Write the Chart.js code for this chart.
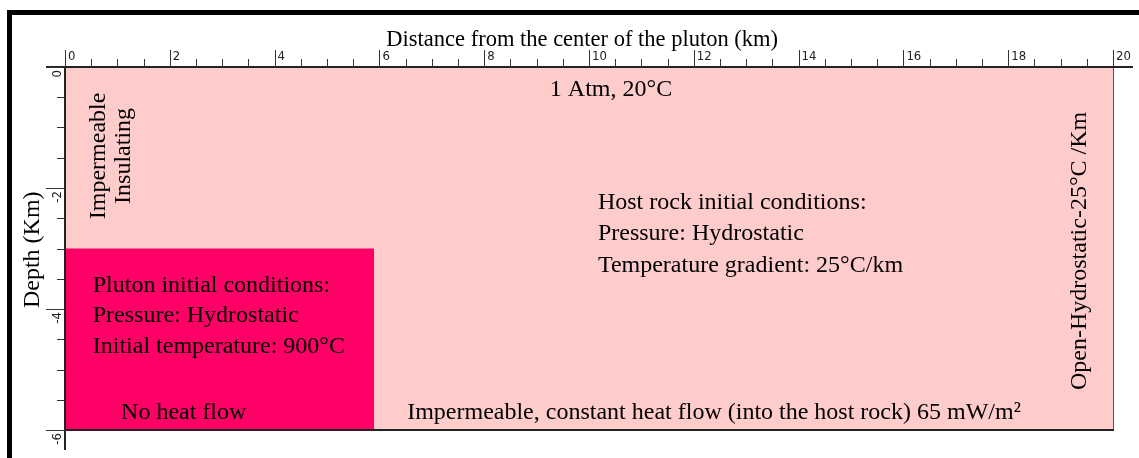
<!DOCTYPE html>
<html>
<head>
<meta charset="utf-8">
<script src="https://cdn.jsdelivr.net/npm/chart.js@4"></script>
<style>
  html, body { margin: 0; padding: 0; background: #fff; }
  #wrap { width: 1139px; height: 458px; position: relative; }
</style>
</head>
<body>
<div id="wrap"><canvas id="model-chart"></canvas></div>
<script>
// Model domain sketch: host rock + pluton block, distance (km) vs depth (km)
const xMajorTicks = [0, 2, 4, 6, 8, 10, 12, 14, 16, 18, 20];
const xTickLabels = ['0', '2', '4', '6', '8', '10', '12', '14', '16', '18', '20'];
const yMajorTicks = [0, -2, -4, -6];
const yTickLabels = ['0', '-2', '-4', '-6'];
const minorStep = 0.5;

// regions (km): host rock fills the whole domain, pluton sits in the lower-left corner
const regionNames = ['Host rock', 'Pluton'];
const regionXStart = [0, 0];
const regionXEnd = [20, 5.9];
const regionTop = [0, -3];

const FONT_SERIF = '"Liberation Serif", "Times New Roman", serif';
const FONT_TICK = '"Liberation Sans Narrow", "Arial Narrow", "DejaVu Sans Condensed", sans-serif';
const regionColors = ['#ffcccc', '#ff0066'];

// text notes placed in data coordinates (x km, y depth km)
const notes = [
  { text: '1 Atm, 20°C', x: 10.42, y: -0.48, align: 'center' },
  { text: 'Host rock initial conditions:', x: 10.17, y: -2.35, align: 'left' },
  { text: 'Pressure: Hydrostatic', x: 10.17, y: -2.86, align: 'left' },
  { text: 'Temperature gradient: 25°C/km', x: 10.17, y: -3.39, align: 'left' },
  { text: 'Pluton initial conditions:', x: 0.53, y: -3.72, align: 'left' },
  { text: 'Pressure: Hydrostatic', x: 0.53, y: -4.21, align: 'left' },
  { text: 'Initial temperature: 900°C', x: 0.53, y: -4.73, align: 'left' },
  { text: 'No heat flow', x: 1.07, y: -5.82, align: 'left' },
  { text: 'Impermeable, constant heat flow (into the host rock) 65 mW/m²', x: 6.53, y: -5.82, align: 'left' },
  { text: 'Impermeable', x: 0.76, y: -1.47, align: 'center', rotate: true },
  { text: 'Insulating', x: 1.24, y: -1.47, align: 'center', rotate: true },
  { text: 'Open-Hydrostatic-25°C /Km', x: 19.49, y: -3.04, align: 'center', rotate: true }
];

const xTitle = 'Distance from the center of the pluton (km)';
const yTitle = 'Depth (Km)';

const frameAndAxes = {
  id: 'frameAndAxes',
  beforeDraw(chart) {
    const ctx = chart.ctx;
    ctx.save();
    ctx.fillStyle = '#000';
    ctx.fillRect(7, 10, chart.width - 7, 5);   // thick top rule
    ctx.fillRect(7, 10, 5, chart.height - 10); // thick left rule
    ctx.restore();
  },
  afterDatasetsDraw(chart) {
    const ctx = chart.ctx;
    const a = chart.chartArea;
    const xs = chart.scales.x, ys = chart.scales.y;
    ctx.save();

    // plot outline (right + bottom)
    ctx.strokeStyle = '#555';
    ctx.lineWidth = 1;
    ctx.beginPath();
    ctx.moveTo(a.right + 0.5, a.top);
    ctx.lineTo(a.right + 0.5, a.bottom);
    ctx.stroke();
    ctx.strokeStyle = '#222';
    ctx.lineWidth = 2;
    ctx.beginPath();
    ctx.moveTo(a.left, a.bottom);
    ctx.lineTo(a.right + 1, a.bottom);
    ctx.stroke();

    // axis lines, extended past the domain
    ctx.strokeStyle = '#222';
    ctx.lineWidth = 2;
    ctx.beginPath();
    ctx.moveTo(a.left - 19, a.top);
    ctx.lineTo(a.right + 20, a.top);
    ctx.moveTo(a.left, a.top);
    ctx.lineTo(a.left, a.bottom + 20);
    ctx.stroke();

    // x ticks on top
    ctx.lineWidth = 1;
    ctx.strokeStyle = '#333';
    ctx.beginPath();
    for (let v = xs.min; v <= xs.max + 1e-9; v += minorStep) {
      const px = Math.round(xs.getPixelForValue(v)) + 0.5;
      const major = xMajorTicks.includes(v);
      ctx.moveTo(px, a.top);
      ctx.lineTo(px, a.top - (major ? 17 : 8));
    }
    // y ticks on the left
    for (let v = ys.max; v >= ys.min - 1e-9; v -= minorStep) {
      const py = Math.round(ys.getPixelForValue(v)) + 0.5;
      const major = yMajorTicks.includes(v);
      ctx.moveTo(a.left, py);
      ctx.lineTo(a.left - (major ? 19 : 8), py);
    }
    ctx.stroke();

    ctx.fillStyle = '#222';
    ctx.font = '13px ' + FONT_TICK;
    ctx.textAlign = 'left';
    ctx.textBaseline = 'alphabetic';
    xMajorTicks.forEach((v, i) => {
      ctx.fillText(xTickLabels[i], xs.getPixelForValue(v) + 3, a.top - 7);
    });
    yMajorTicks.forEach((v, i) => {
      ctx.save();
      ctx.translate(a.left - 4, ys.getPixelForValue(v) + 3);
      ctx.rotate(-Math.PI / 2);
      ctx.textAlign = 'right';
      ctx.fillText(yTickLabels[i], 0, 0);
      ctx.restore();
    });

    // axis titles
    ctx.fillStyle = '#000';
    ctx.font = '22.5px ' + FONT_SERIF;
    ctx.textAlign = 'center';
    ctx.fillText(xTitle, xs.getPixelForValue(9.87), a.top - 21);
    ctx.save();
    ctx.translate(a.left - 26, ys.getPixelForValue(-3.02));
    ctx.rotate(-Math.PI / 2);
    ctx.font = '24px ' + FONT_SERIF;
    ctx.fillText(yTitle, 0, 0);
    ctx.restore();

    // notes
    ctx.font = '24px ' + FONT_SERIF;
    notes.forEach(n => {
      const px = xs.getPixelForValue(n.x);
      const py = ys.getPixelForValue(n.y);
      ctx.save();
      ctx.textAlign = n.align;
      if (n.rotate) {
        ctx.translate(px, py);
        ctx.rotate(-Math.PI / 2);
        ctx.fillText(n.text, 0, 0);
      } else {
        ctx.fillText(n.text, px, py);
      }
      ctx.restore();
    });
    ctx.restore();
  }
};

const datasets = regionNames.map((name, i) => ({
  label: name,
  data: [{ x: regionXStart[i], y: regionTop[i] }, { x: regionXEnd[i], y: regionTop[i] }],
  showLine: true,
  fill: 'start',
  backgroundColor: regionColors[i],
  borderColor: regionColors[i],
  borderWidth: 0,
  pointRadius: 0,
  pointHoverRadius: 0,
  order: regionNames.length - i
}));

new Chart(document.getElementById('model-chart'), {
  type: 'scatter',
  data: { datasets },
  options: {
    responsive: true,
    maintainAspectRatio: false,
    animation: false,
    layout: { padding: { left: 65, top: 67, right: 26, bottom: 28 } },
    plugins: {
      legend: { display: false },
      tooltip: { enabled: false }
    },
    scales: {
      x: { type: 'linear', min: 0, max: 20, display: false },
      y: { type: 'linear', min: -6, max: 0, display: false }
    }
  },
  plugins: [frameAndAxes]
});
</script>
</body>
</html>
